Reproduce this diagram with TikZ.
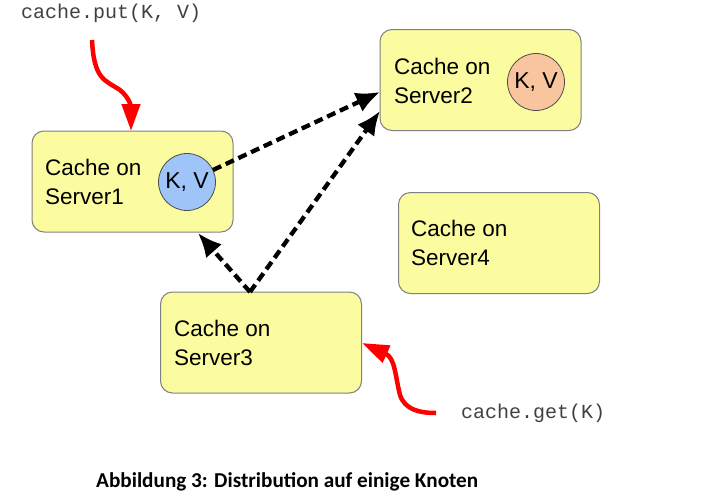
\documentclass[tikz,border=0pt]{standalone}
\usepackage{fontspec}
\setmainfont{Liberation Sans}
\newfontfamily\monof{Liberation Mono}
\newfontfamily\capf{Carlito}
\usetikzlibrary{arrows.meta}
\definecolor{boxfill}{HTML}{FBFB9F}
\definecolor{boxline}{HTML}{808080}
\definecolor{kvblue}{HTML}{9FC4F8}
\definecolor{kvorange}{HTML}{F8C59E}
\definecolor{codegray}{HTML}{404040}
\definecolor{arrred}{HTML}{FF0000}
\begin{document}
\begin{tikzpicture}[x=1pt,y=-1pt,
  server/.style={draw=boxline,line width=1pt,fill=boxfill,rounded corners=12pt,minimum width=201pt,minimum height=101pt,inner sep=0pt},
  label/.style={align=left,font=\fontsize{22.5}{29}\selectfont,anchor=west,inner sep=0pt},
  kv/.style={circle,draw=black!70,line width=0.8pt,minimum size=57pt,inner sep=0pt,font=\fontsize{23}{26}\selectfont},
  code/.style={font=\monof\fontsize{20}{24}\selectfont,text=codegray,inner sep=0pt,anchor=west},
  dasharr/.style={line width=4.3pt,dash pattern=on 9pt off 5pt,-{Latex[length=24pt,width=21pt]}},
  redarr/.style={arrred,line width=4.5pt,-{Triangle[length=27pt,width=18pt]}}]
\useasboundingbox (0,0) rectangle (717,498);
% servers
\node[server] (s1) at (132.5,181.5) {};
\node[server] (s2) at (480.5,80) {};
\node[server] (s3) at (261,342.5) {};
\node[server] (s4) at (499,243) {};
\node[label] (t1) at (45,182) {Cache on\\Server1};
\node[label] (t2) at (394,81) {Cache on\\Server2};
\node[label] (t3) at (174,343) {Cache on\\Server3};
\node[label] (t4) at (411,243) {Cache on\\Server4};
\node[kv,fill=kvblue] (c1) at (187,182) {K, V};
\node[kv,fill=kvorange] (c2) at (536,82) {K, V};
% code labels
\node[code] (put) at (21,13) {cache.put(K, V)};
\node[code] (get) at (461,413) {cache.get(K)};
% caption
\node[font=\capf\bfseries\fontsize{21.2}{24}\selectfont,inner sep=0pt,anchor=west] (cap) at (96,482) {Abbildung 3: Distribution auf einige Knoten};
% coordinates
\coordinate (s3top) at (250,292);
\coordinate (s1bot) at (198,233);
\coordinate (s2a) at (380,92);
\coordinate (s2b) at (380,111);
\coordinate (c1r) at (213,170);
\coordinate (putstart) at (92,40);
\coordinate (putend) at (131,131);
\coordinate (getstart) at (436,413);
\coordinate (getend) at (362,343);
% dashed arrows
\draw[dasharr] (c1r) -- (s2a);
\draw[dasharr] (s3top) -- (s2b);
\draw[dasharr] (s3top) -- (s1bot);
% red arrows
\draw[redarr] (putstart) .. controls (94,80) and (105,80) .. (120,90) .. controls (130,98) and (131,108) .. (putend);
\draw[redarr] (getstart) .. controls (420,413) and (405,410) .. (400,395) .. controls (395,375) and (395,358) .. (getend);
\end{tikzpicture}
\end{document}
